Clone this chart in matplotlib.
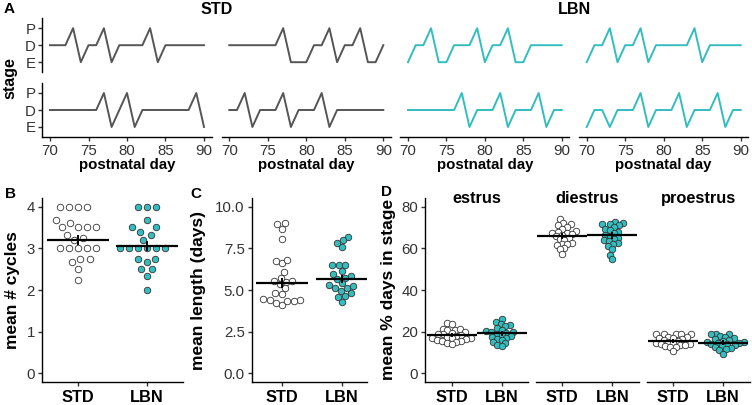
import numpy as np
import matplotlib
matplotlib.use("Agg")
import matplotlib.pyplot as plt

plt.rcParams['font.family'] = ['Liberation Sans', 'DejaVu Sans']

# --- data ---
days = list(range(70, 91))
stage_levels = ["E", "D", "P"]

# estrous stage per day (PND 70-90), two example animals per column
std_col1_top = list("DDDPEDDPEDDDDPEDDDDDD")
std_col1_bot = list("DDDDDDDPEDPEDDDDDDDPE")
std_col2_top = list("DDDDDDDPEEEDDPEDDPEED")
std_col2_bot = list("DDPEDDDPEDDDPEDDDDDDD")
lbn_col3_top = list("EDDPEEDDDPEDDPEEDDDDD")
lbn_col3_bot = list("DDDDDDDPEDDDPEDDDPEDD")
lbn_col4_top = list("EDDPEDDPEDDDDDPEDDDDD")
lbn_col4_bot = list("EDDEDDDPEDDDPEDDDPEDD")

groups = ["STD", "LBN"]

# B: mean number of cycles
cycles_std = [4, 4, 4, 4, 3.5, 3.6, 3.5, 3.5, 3.67, 3.5, 3.33, 3.25, 3.2,
              3, 3, 3, 3, 3, 2.75, 2.75, 2.67, 2.5, 2.25]
cycles_lbn = [4, 4, 4, 3.67, 3.5, 3.5, 3.4, 3.33, 3.2, 3, 3, 3, 3, 3, 3,
              2.75, 2.75, 2.67, 2.5, 2.5, 2.33, 2.0]
cycles_mean = [3.20, 3.06]
cycles_se = [0.10, 0.10]

# C: mean cycle length (days)
length_std = [8.94, 9.0, 8.66, 8.08, 6.74, 6.62, 6.8, 6.06, 5.5, 5.54, 5.54,
              5.74, 5.1, 5.34, 4.76, 4.8, 4.38, 4.24, 4.4, 4.1, 4.34, 4.32, 4.48]
length_lbn = [8.2, 7.84, 8.0, 7.6, 6.5, 6.5, 6.5, 5.96, 6.16, 5.74, 5.86, 5.66,
              5.24, 5.4, 5.1, 5.3, 5.1, 4.8, 4.94, 4.6, 4.64, 4.3]
length_mean = [5.42, 5.66]
length_se = [0.24, 0.20]

# D: mean % days in each stage
stages_d = ["estrus", "diestrus", "proestrus"]
estrus_std = [24.0, 23.8, 21.5, 21.0, 21.3, 20.8, 20.0, 19.5, 19.0, 19.0, 18.5, 18.0,
              17.5, 17.0, 17.0, 16.8, 16.5, 16.0, 15.5, 15.5, 15.0, 14.8, 14.3]
estrus_lbn = [26.2, 24.5, 23.8, 23.0, 22.5, 22.0, 21.0, 20.5, 20.0, 19.8, 19.5,
              19.0, 18.5, 18.0, 17.5, 17.0, 16.5, 16.0, 15.0, 14.5, 13.5, 13.0]
diestrus_std = [74.0, 72.0, 71.5, 71.0, 70.0, 69.5, 68.5, 68.0, 67.5, 67.5, 67.0, 66.5,
                66.0, 65.0, 64.5, 64.0, 62.5, 62.0, 62.0, 61.5, 60.0, 59.5, 57.5]
diestrus_lbn = [72.8, 72.0, 71.5, 71.5, 71.0, 70.0, 69.5, 69.0, 68.0, 67.5, 66.5,
                66.0, 65.0, 64.5, 64.0, 63.5, 62.5, 62.0, 61.0, 59.5, 57.0, 55.0]
proestrus_std = [19.0, 19.0, 19.0, 19.0, 19.0, 17.5, 17.5, 17.0, 17.0, 16.5, 16.0, 15.5,
                 15.0, 14.5, 14.5, 14.0, 14.0, 13.5, 13.5, 13.0, 12.5, 12.5, 10.5]
proestrus_lbn = [19.0, 19.0, 19.0, 18.0, 17.5, 17.0, 16.5, 16.0, 15.5, 15.0, 15.0,
                 14.5, 14.5, 14.0, 14.0, 13.5, 13.0, 12.5, 12.0, 11.5, 11.0, 9.5]
stage_mean = {"estrus": [18.4, 19.2], "diestrus": [65.9, 66.2], "proestrus": [15.5, 14.8]}
stage_se = {"estrus": [0.6, 0.8], "diestrus": [1.0, 1.1], "proestrus": [0.5, 0.6]}

# --- style ---
STD_LINE = "#555555"
TEAL = "#33BDBF"
EDGE = "#333333"
TXT = "#333333"
W, H = 752, 405

fig = plt.figure(figsize=(W / 100, H / 100), dpi=100)


def px_axes(x0, y0, x1, y1):
    return fig.add_axes([x0 / W, 1 - y1 / H, (x1 - x0) / W, (y1 - y0) / H])


def ftext(x, y, s, **kw):
    fig.text(x / W, 1 - y / H, s, ha="center", va="center", **kw)


def style(ax, left=True, bottom=True):
    for s in ["top", "right"]:
        ax.spines[s].set_visible(False)
    ax.spines["left"].set_visible(left)
    ax.spines["bottom"].set_visible(bottom)
    for s in ax.spines.values():
        s.set_linewidth(1.0)
    ax.tick_params(length=3, width=1.0, color=TXT, labelcolor=TXT,
                   labelsize=10.8, pad=2)
    if not left:
        ax.set_yticks([])
    if not bottom:
        ax.set_xticks([])
    ax.patch.set_alpha(0)


# --- panel A ---
cols = [(42.3, 211.7), (221.6, 391.0), (400.3, 569.4), (579.0, 748.4)]
rows = [(18.0, 72.4), (82.8, 137.2)]
series = [[std_col1_top, std_col1_bot], [std_col2_top, std_col2_bot],
          [lbn_col3_top, lbn_col3_bot], [lbn_col4_top, lbn_col4_bot]]
colors = [STD_LINE, STD_LINE, TEAL, TEAL]

for i, (x0, x1) in enumerate(cols):
    for j, (y0, y1) in enumerate(rows):
        ax = px_axes(x0, y0, x1, y1)
        vals = [stage_levels.index(s) for s in series[i][j]]
        ax.plot(days, vals, color=colors[i], lw=1.4)
        ax.set_xlim(69, 91)
        ax.set_ylim(-0.6, 2.6)
        ax.set_yticks([0, 1, 2], stage_levels)
        ax.set_xticks([70, 75, 80, 85, 90])
        style(ax, left=(i == 0), bottom=(j == 1))
    ftext((x0 + x1) / 2, 165, "postnatal day", fontsize=10.8, fontweight="bold")

ftext((cols[0][0] + cols[1][1]) / 2, 10, "STD", fontsize=11.6, fontweight="bold")
ftext((cols[2][0] + cols[3][1]) / 2, 10, "LBN", fontsize=11.6, fontweight="bold")
ftext(9, 9, "A", fontsize=11, fontweight="bold")
ftext(10, 77.6, "stage", fontsize=11.5, fontweight="bold", rotation=90)


# --- swarm helper ---
def swarm_offsets(vals, yppu, d):
    y = np.asarray(vals, dtype=float) * yppu
    order = np.argsort(y, kind="stable")
    xs = np.zeros(len(y))
    placed = []
    for i in order:
        cands = [0.0]
        near = []
        for xj, yj in placed:
            dy = abs(y[i] - yj)
            if dy < d:
                w = np.sqrt(d * d - dy * dy)
                near.append((xj - w, xj + w))
                cands += [xj - w, xj + w]
        cands.sort(key=abs)
        for c in cands:
            if all(not (lo + 1e-6 < c < hi - 1e-6) for lo, hi in near):
                xs[i] = c
                break
        placed.append((xs[i], y[i]))
    return xs


def dot_panel(ax, data, means, ses, xppu, yppu, d, half):
    faces = ["white", TEAL]
    for k, vals in enumerate(data):
        off = swarm_offsets(vals, yppu, d) / xppu
        ax.scatter(k + 1 + off, vals, s=22, facecolor=faces[k], edgecolor=EDGE,
                   linewidth=0.6, zorder=3, clip_on=False)
        ax.plot([k + 1 - half, k + 1 + half], [means[k]] * 2, color="black",
                lw=1.6, zorder=4, solid_capstyle="butt")
        ax.plot([k + 1, k + 1], [means[k] - ses[k], means[k] + ses[k]],
                color="black", lw=1.4, zorder=4)
    ax.set_xticks([1, 2], groups)
    for lab in ax.get_xticklabels():
        lab.set_fontweight("bold")
        lab.set_fontsize(11.8)
        lab.set_color("black")


AX_TOP, AX_BOT = 198.3, 381.7

# --- panel B ---
axb = px_axes(41.8, AX_TOP, 182.6, AX_BOT)
axb.set_xlim(0.48, 2.52)
axb.set_ylim(-0.2, 4.2)
axb.set_yticks([0, 1, 2, 3, 4])
style(axb)
axb.tick_params(axis="x", pad=3)
dot_panel(axb, [cycles_std, cycles_lbn], cycles_mean, cycles_se, 69, 41.67, 9, 0.45)
ftext(11, 194, "B", fontsize=11, fontweight="bold")
ftext(12.5, 290, "mean # cycles", fontsize=12.5, fontweight="bold", rotation=90)

# --- panel C ---
axc = px_axes(251.7, AX_TOP, 366.9, AX_BOT)
axc.set_xlim(0.5, 2.42)
axc.set_ylim(-0.5, 10.5)
axc.set_yticks([0, 2.5, 5, 7.5, 10], ["0.0", "2.5", "5.0", "7.5", "10.0"])
style(axc)
axc.tick_params(axis="x", pad=3)
dot_panel(axc, [length_std, length_lbn], length_mean, length_se, 60, 16.67, 6.5, 0.43)
ftext(196, 194, "C", fontsize=11, fontweight="bold")
ftext(199, 290, "mean length (days)", fontsize=12.5, fontweight="bold", rotation=90)

# --- panel D ---
facets = [(425.0, 528.0), (535.8, 638.8), (646.6, 749.6)]
d_data = {"estrus": [estrus_std, estrus_lbn],
          "diestrus": [diestrus_std, diestrus_lbn],
          "proestrus": [proestrus_std, proestrus_lbn]}
for i, (x0, x1) in enumerate(facets):
    ax = px_axes(x0, AX_TOP, x1, AX_BOT)
    ax.set_xlim(0.47, 2.53)
    ax.set_ylim(-4, 84)
    ax.set_yticks([0, 20, 40, 60, 80])
    style(ax, left=(i == 0))
    ax.tick_params(axis="x", pad=3)
    st = stages_d[i]
    dot_panel(ax, d_data[st], stage_mean[st], stage_se[st], 50, 2.083, 5.0, 0.5)
    ftext((x0 + x1) / 2, 198.5, st, fontsize=11.8, fontweight="bold")
ftext(387, 192, "D", fontsize=11, fontweight="bold")
ftext(389, 289, "mean % days in stage", fontsize=12.5, fontweight="bold", rotation=90)

fig.savefig("out.png", dpi=100)
